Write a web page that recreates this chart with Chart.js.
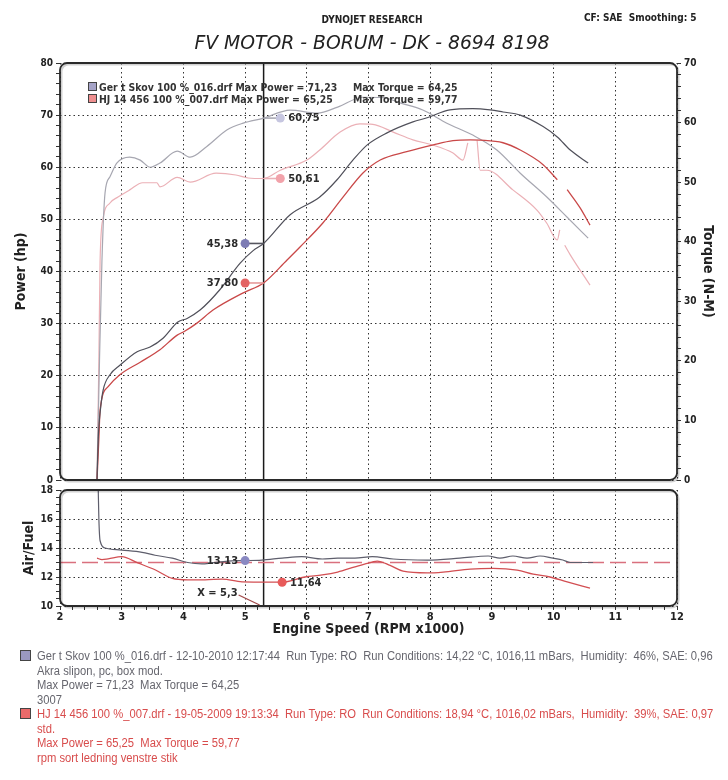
<!DOCTYPE html>
<html><head><meta charset="utf-8">
<script src="https://cdn.jsdelivr.net/npm/chart.js@4/dist/chart.umd.min.js"></script>
<style>
html,body{margin:0;padding:0;background:#fff;}
body{width:728px;height:780px;position:relative;overflow:hidden;font-family:"DejaVu Sans",sans-serif;}
.abs{position:absolute;white-space:pre;}
canvas{position:absolute;left:0;}
.lg{font:bold 10.4px "DejaVu Sans Condensed","DejaVu Sans",sans-serif;color:#333;line-height:12px;}
.note{font-family:"Liberation Sans",Arial,sans-serif;font-size:12.5px;line-height:14.5px;transform-origin:0 0;}
.sq{position:absolute;box-sizing:border-box;border:1px solid #444;}
</style></head><body>
<canvas id="c1" width="728" height="490" style="top:0px"></canvas>
<canvas id="c2" width="728" height="170" style="top:480px"></canvas>

<div class="abs" style="left:272px;width:200px;text-align:center;top:14px;font:bold 10px 'DejaVu Sans Condensed','DejaVu Sans',sans-serif;color:#222;">DYNOJET RESEARCH</div>
<div class="abs" style="left:584px;top:12px;font:bold 10px 'DejaVu Sans Condensed','DejaVu Sans',sans-serif;color:#222;">CF: SAE  Smoothing: 5</div>
<div class="abs" style="left:72px;width:600px;text-align:center;top:32px;line-height:24px;font:italic 18.8px 'DejaVu Sans',sans-serif;color:#222;">FV MOTOR - BORUM - DK - 8694 8198</div>

<div class="sq" style="left:88px;top:82px;width:9px;height:9px;background:#a6a4c8;"></div>
<div class="abs lg" style="left:99px;top:81px;">Ger t Skov 100 %_016.drf Max Power = 71,23</div>
<div class="abs lg" style="left:353px;top:81px;">Max Torque = 64,25</div>
<div class="sq" style="left:88px;top:94px;width:9px;height:9px;background:#ef8f8f;"></div>
<div class="abs lg" style="left:99px;top:93px;">HJ 14 456 100 %_007.drf Max Power = 65,25</div>
<div class="abs lg" style="left:353px;top:93px;">Max Torque = 59,77</div>

<div class="sq" style="left:20px;top:650px;width:11px;height:11px;background:#9a98c0;"></div>
<div class="abs note" id="n1" style="left:37px;top:649px;color:#66666e;">Ger t Skov 100 %_016.drf - 12-10-2010 12:17:44  Run Type: RO  Run Conditions: 14,22 °C, 1016,11 mBars,  Humidity:  46%, SAE: 0,96
Akra slipon, pc, box mod.
Max Power = 71,23  Max Torque = 64,25
3007</div>
<div class="sq" style="left:20px;top:708px;width:11px;height:11px;background:#ea6a6a;"></div>
<div class="abs note" id="n2" style="left:37px;top:707px;color:#d84c4c;">HJ 14 456 100 %_007.drf - 19-05-2009 19:13:34  Run Type: RO  Run Conditions: 18,94 °C, 1016,02 mBars,  Humidity:  39%, SAE: 0,97
std.
Max Power = 65,25  Max Torque = 59,77
rpm sort ledning venstre stik</div>

<script>
// ---------------- DATA ----------------
const cursorRpm = 5.3;
const xTickLabels = ['2','3','4','5','6','7','8','9','10','11','12'];
const powerTickLabels = ['0','10','20','30','40','50','60','70','80'];
const torqueTickLabels = ['0','10','20','30','40','50','60','70'];
const afrTickLabels = ['10','12','14','16','18'];

const gertPowerRpm = [2.60,2.62,2.66,2.70,2.81,2.97,3.25,3.46,3.67,3.91,4.06,4.27,4.59,4.92,5.13,5.30,5.73,6.21,6.49,6.75,6.98,7.30,7.72,7.95,8.32,8.69,8.97,9.18,9.46,9.83,10.06,10.27,10.56];
const gertPowerHp  = [0,8,14,17.3,20.2,22.0,24.6,25.5,27.2,30.3,31.0,32.6,36.5,41.6,44.0,45.38,50.9,54.3,57.6,61.4,64.3,66.6,68.7,69.5,71.0,71.23,71.0,70.6,70.0,67.8,65.8,63.3,60.8];

const hjPowerRpm = [2.60,2.63,2.65,2.78,2.97,3.30,3.62,3.90,4.00,4.22,4.48,4.97,5.30,5.68,5.89,6.26,6.59,6.91,7.19,7.62,8.05,8.37,8.65,8.81,9.18,9.46,9.83,10.06,10.14,10.22,10.43,10.59];
const hjPowerHp  = [0,8,13.4,17.9,20.2,22.6,25.0,27.8,28.4,30.1,32.6,35.9,37.8,42.2,44.7,49.3,54.3,58.9,61.4,63.0,64.3,65.1,65.25,65.2,64.7,63.3,60.5,57.6,null,55.7,52.2,48.9];

const gertTorqueRpm = [2.60,2.64,2.68,2.73,2.81,2.92,3.13,3.30,3.46,3.62,3.90,4.11,4.38,4.71,4.97,5.30,5.73,6.17,6.50,6.91,7.24,7.51,7.88,8.27,8.69,9.08,9.46,9.89,10.22,10.56];
const gertTorqueNm  = [0,20,36.9,48.2,50.9,53.2,54.2,53.7,52.5,53.2,55.2,54.2,56.0,58.8,59.9,60.75,62.1,61.6,62.6,64.25,64.2,63.3,62.1,59.9,57.9,55.4,51.5,47.5,44.1,40.6];

const hjTorqueRpm = [2.60,2.63,2.65,2.70,2.81,2.94,3.13,3.34,3.57,3.62,3.90,4.11,4.53,4.85,5.05,5.30,5.57,6.00,6.21,6.54,6.86,7.07,7.40,7.72,8.05,8.37,8.53,8.61,8.68,8.76,8.81,8.92,9.34,9.73,9.89,10.06,10.10,10.14,10.18,10.27,10.59];
const hjTorqueNm  = [0,20,36.9,44.0,46.5,47.5,48.7,49.9,49.9,49.2,50.8,50.0,51.5,51.2,50.7,50.61,52.0,53.7,55.4,58.4,59.77,59.7,58.4,57.1,56.2,54.9,53.7,56.6,null,57.0,52.0,52.0,48.7,45.3,43.1,40.3,42.0,null,39.4,37.8,32.7];

const gertAfrRpm = [2.62,2.63,2.65,2.73,3.00,3.33,3.54,3.82,4.07,4.30,4.46,4.72,4.97,5.27,5.60,5.92,6.25,6.50,6.78,7.06,7.40,7.95,8.48,8.94,9.13,9.34,9.57,9.78,9.99,10.15,10.27,10.64];
const gertAfr    = [18.0,16,14.5,14.0,13.86,13.7,13.5,13.3,13.0,12.9,12.97,13.1,13.13,13.17,13.3,13.4,13.24,13.3,13.3,13.4,13.24,13.17,13.3,13.45,13.3,13.45,13.3,13.45,13.3,13.17,13.0,13.0];

const hjAfrRpm = [2.60,2.68,2.78,3.00,3.26,3.54,3.82,4.07,4.35,4.63,4.95,5.27,5.60,5.97,6.25,6.50,6.78,7.06,7.14,7.35,7.56,7.95,8.21,8.65,9.02,9.41,9.67,9.94,10.22,10.59];
const hjAfr    = [13.3,13.2,13.25,13.4,12.97,12.5,11.9,11.8,11.8,11.86,11.66,11.65,11.64,12.0,12.14,12.34,12.7,13.03,13.1,12.8,12.4,12.28,12.34,12.55,12.6,12.48,12.2,12.0,11.66,11.24];

const afrTargetRpm = [2, 12];
const afrTarget    = [13.0, 13.0];

// cursor readouts
const markerPowerRpm = 5.0;
const markerTorqueRpm = 5.57;
const cursorHp = [45.38, 37.80];      // Gert, HJ
const cursorTorque = [60.75, 50.61];  // Gert, HJ
const markerAfrRpm = [5.0, 5.6];
const cursorAfr = [13.13, 11.64];
const cursorXLabel = 'X = 5,3';

// fit the narrow note text to its printed width
['n1', 'n2'].forEach(id => {
  const el = document.getElementById(id);
  const w = el.scrollWidth;
  if (w > 0) el.style.transform = 'scaleX(' + (676 / w).toFixed(4) + ')';
});

// ---------------- HELPERS ----------------
const pts = (xs, ys) => xs.map((x, i) => ({x, y: ys[i]}));
const isMult = (v, m) => Math.abs(v / m - Math.round(v / m)) < 1e-6;
const FONT = "'DejaVu Sans Condensed','DejaVu Sans',sans-serif";
Chart.defaults.font.family = FONT;
Chart.defaults.color = '#222';

function frameRect(ctx, a, r) {
  const x = a.left, y = a.top, w = a.right - a.left, h = a.bottom - a.top;
  ctx.beginPath();
  ctx.moveTo(x + r, y);
  ctx.lineTo(x + w - r, y); ctx.arcTo(x + w, y, x + w, y + r, r);
  ctx.lineTo(x + w, y + h - r); ctx.arcTo(x + w, y + h, x + w - r, y + h, r);
  ctx.lineTo(x + r, y + h); ctx.arcTo(x, y + h, x, y + h - r, r);
  ctx.lineTo(x, y + r); ctx.arcTo(x, y, x + r, y, r);
  ctx.closePath();
}

const cursorPlugin = {
  id: 'cursorFrame',
  beforeDatasetsDraw(chart) {
    const {ctx, chartArea: a, scales} = chart;
    const xc = scales.x.getPixelForValue(cursorRpm);
    ctx.save();
    ctx.strokeStyle = '#1a1a1a'; ctx.lineWidth = 1.5;
    ctx.beginPath(); ctx.moveTo(xc, a.top); ctx.lineTo(xc, a.bottom); ctx.stroke();
    ctx.restore();
  },
  afterDatasetsDraw(chart) {
    const {ctx, chartArea: a} = chart;
    ctx.save();
    ctx.strokeStyle = 'rgba(0,0,0,0.18)'; ctx.lineWidth = 2;
    ctx.translate(1.5, 1.5); frameRect(ctx, a, 7); ctx.stroke();
    ctx.restore();
    ctx.save();
    ctx.strokeStyle = '#2a2a2a'; ctx.lineWidth = 1.8;
    frameRect(ctx, a, 7); ctx.stroke();
    ctx.restore();
    // marker labels
    chart.data.datasets.forEach((ds, i) => {
      if (!ds.markerText) return;
      const el = chart.getDatasetMeta(i).data[0];
      ctx.save();
      ctx.font = 'bold 11px ' + FONT;
      ctx.fillStyle = '#2b2b2b';
      ctx.textBaseline = 'middle';
      if (ds.markerSide === 'left') { ctx.textAlign = 'right'; ctx.fillText(ds.markerText, el.x - 7, el.y + 0.5); }
      else { ctx.textAlign = 'left'; ctx.fillText(ds.markerText, el.x + 8, el.y + 0.5); }
      ctx.restore();
    });
    if (chart.options.plugins.cursorFrame && chart.options.plugins.cursorFrame.xLabel) {
      const xc = chart.scales.x.getPixelForValue(cursorRpm);
      ctx.save();
      ctx.font = 'bold 11px ' + FONT;
      ctx.fillStyle = '#2b2b2b'; ctx.textAlign = 'right'; ctx.textBaseline = 'middle';
      ctx.fillText(cursorXLabel, xc - 26, a.bottom - 13);
      ctx.strokeStyle = '#a04848'; ctx.lineWidth = 1.3;
      ctx.beginPath(); ctx.moveTo(xc - 25, a.bottom - 11); ctx.lineTo(xc - 4, a.bottom - 1); ctx.stroke();
      ctx.restore();
    }
  }
};

function lineDs(data, color, yAxisID, width) {
  return {data, borderColor: color, borderWidth: width || 1.2, yAxisID, pointRadius: 0,
          cubicInterpolationMode: 'monotone', spanGaps: false, fill: false};
}
// marker dot sits at the first point; the line runs to the cursor
function markerDs(xDot, xCursor, y, yAxisID, lineColor, dotColor, text, side) {
  return {data: [{x: xDot, y}, {x: xCursor, y}], yAxisID, borderColor: lineColor, borderWidth: 1.6,
          pointRadius: [4.5, 0], pointBackgroundColor: dotColor, pointBorderColor: dotColor,
          pointBorderWidth: 0, markerText: text, markerSide: side, tension: 0};
}

const DOT = [1.5, 3];
const minorGrid = (major) => ({
  color: c => (c.tick && isMult(c.tick.value, major)) ? '#333' : 'rgba(0,0,0,0)',
  lineWidth: 1, tickColor: '#333', tickLength: 4, tickWidth: 1, tickBorderDash: []
});

// ---------------- TOP CHART ----------------
new Chart(document.getElementById('c1'), {
  type: 'line',
  data: {datasets: [
    markerDs(markerPowerRpm, cursorRpm, cursorHp[0], 'yP', '#55555e', '#7d7cb4', '45,38', 'left'),
    markerDs(markerPowerRpm, cursorRpm, cursorHp[1], 'yP', '#e69a9a', '#e36262', '37,80', 'left'),
    markerDs(markerTorqueRpm, cursorRpm, cursorTorque[0], 'yT', '#a9a9b3', '#c6c6e0', '60,75', 'right'),
    markerDs(markerTorqueRpm, cursorRpm, cursorTorque[1], 'yT', '#eab0b6', '#f2a2aa', '50,61', 'right'),
    lineDs(pts(gertPowerRpm, gertPowerHp), '#50505a', 'yP', 1.2),
    lineDs(pts(hjPowerRpm, hjPowerHp), '#c94848', 'yP', 1.3),
    lineDs(pts(gertTorqueRpm, gertTorqueNm), '#a7a7b1', 'yT', 1.2),
    lineDs(pts(hjTorqueRpm, hjTorqueNm), '#ebb0b6', 'yT', 1.2)
  ]},
  options: {
    responsive: false, animation: false, events: [], parsing: false, normalized: false,
    layout: {padding: {top: 63, bottom: 10, left: 0, right: 0}},
    plugins: {legend: {display: false}, tooltip: {enabled: false}, cursorFrame: {xLabel: false}},
    scales: {
      x: {type: 'linear', min: 2, max: 12,
          ticks: {display: false, stepSize: 1},
          grid: {color: '#333', lineWidth: 1, drawTicks: false},
          border: {display: false, dash: DOT},
          afterFit: s => { s.height = 0; }},
      yP: {type: 'linear', position: 'left', min: 0, max: 80,
           ticks: {stepSize: 2, autoSkip: false, padding: 3, font: {size: 10, weight: 'bold'},
                   callback: v => isMult(v, 10) ? powerTickLabels[Math.round(v / 10)] : ''},
           grid: minorGrid(10), border: {display: false, dash: DOT},
           title: {display: true, text: 'Power (hp)', font: {size: 14, weight: 'bold'}, padding: {top: 13, bottom: 0}},
           afterFit: s => { s.width = 60; }},
      yT: {type: 'linear', position: 'right', min: 0, max: 70,
           ticks: {stepSize: 2, autoSkip: false, padding: 3, font: {size: 10, weight: 'bold'},
                   callback: v => isMult(v, 10) ? torqueTickLabels[Math.round(v / 10)] : ''},
           grid: {drawOnChartArea: false, tickColor: '#333', tickLength: 4, tickBorderDash: []},
           border: {display: false},
           title: {display: true, text: 'Torque (N-M)', font: {size: 14, weight: 'bold'}, padding: {top: 12, bottom: 0}},
           afterFit: s => { s.width = 51; }}
    }
  },
  plugins: [cursorPlugin]
});

// ---------------- BOTTOM CHART ----------------
new Chart(document.getElementById('c2'), {
  type: 'line',
  data: {datasets: [
    {data: [{x: markerAfrRpm[0], y: cursorAfr[0]}], yAxisID: 'y', showLine: false, pointRadius: 4.5,
     pointBackgroundColor: '#8a89c2', pointBorderWidth: 0, markerText: '13,13', markerSide: 'left'},
    {data: [{x: markerAfrRpm[1], y: cursorAfr[1]}], yAxisID: 'y', showLine: false, pointRadius: 4.5,
     pointBackgroundColor: '#e85a5a', pointBorderWidth: 0, markerText: '11,64', markerSide: 'right'},
    lineDs(pts(gertAfrRpm, gertAfr), '#5e5e6c', 'y', 1.2),
    lineDs(pts(hjAfrRpm, hjAfr), '#d24e52', 'y', 1.3),
    Object.assign(lineDs(pts(afrTargetRpm, afrTarget), '#d9707e', 'y', 1.6), {borderDash: [16, 6], tension: 0, cubicInterpolationMode: 'default'})
  ]},
  options: {
    responsive: false, animation: false, events: [], parsing: false, normalized: false,
    layout: {padding: {top: 10, bottom: 0, left: 0, right: 51}},
    plugins: {legend: {display: false}, tooltip: {enabled: false}, cursorFrame: {xLabel: true}},
    scales: {
      x: {type: 'linear', min: 2, max: 12,
          ticks: {stepSize: 0.2, autoSkip: false, maxRotation: 0, padding: 1, font: {size: 11, weight: 'bold'},
                  callback: v => isMult(v, 1) ? xTickLabels[Math.round(v) - 2] : ''},
          grid: minorGrid(1), border: {display: false, dash: DOT},
          title: {display: true, text: 'Engine Speed (RPM x1000)', font: {size: 14, weight: 'bold'}, padding: {top: 0, bottom: 12}},
          afterFit: s => { s.height = 44; }},
      y: {type: 'linear', position: 'left', min: 10, max: 18,
          ticks: {stepSize: 0.5, autoSkip: false, padding: 3, font: {size: 10, weight: 'bold'},
                  callback: v => isMult(v, 2) ? afrTickLabels[Math.round((v - 10) / 2)] : ''},
          grid: minorGrid(2), border: {display: false, dash: DOT},
          title: {display: true, text: 'Air/Fuel', font: {size: 14, weight: 'bold'}, padding: {top: 21, bottom: 0}},
          afterFit: s => { s.width = 60; }}
    }
  },
  plugins: [cursorPlugin]
});
</script>
</body></html>
